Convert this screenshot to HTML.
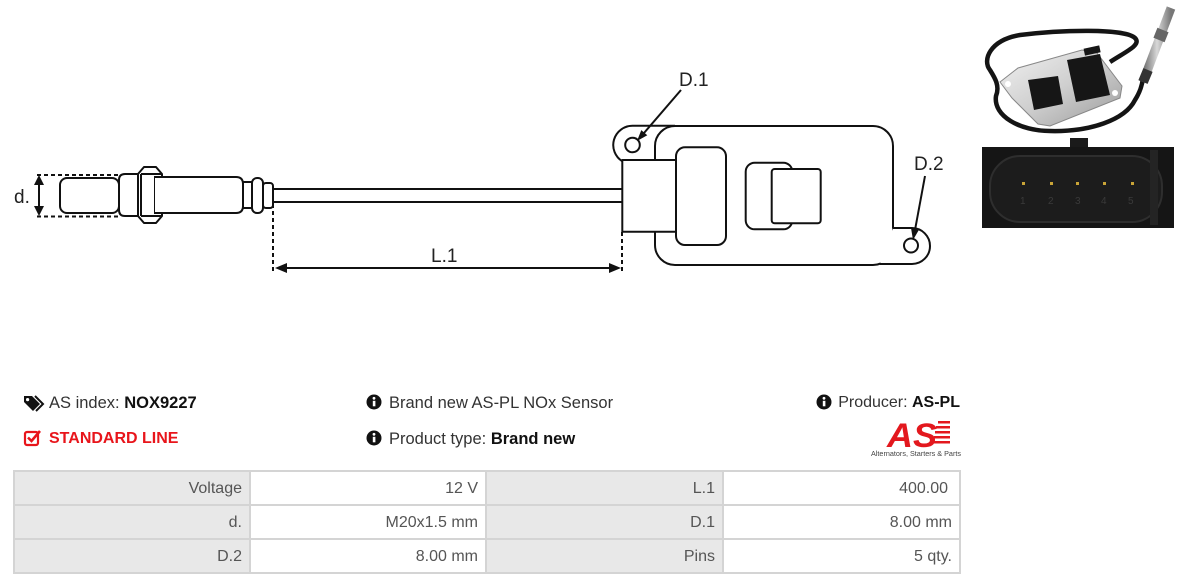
<!DOCTYPE html>
<html><head><meta charset="utf-8">
<style>
html,body{margin:0;padding:0;background:#fff;}
body{width:1185px;height:586px;position:relative;overflow:hidden;font-family:"Liberation Sans",Arial,sans-serif;}
.t{position:absolute;font-size:16.5px;color:#333;white-space:nowrap;line-height:20px;}
.t b{color:#111;}
.c{position:absolute;box-sizing:border-box;font-size:16px;color:#555;text-align:right;line-height:34px;padding-right:7px;height:32px;white-space:nowrap;}
.l{background:#e8e8e8;}
.v{background:#fff;}
svg{position:absolute;left:0;top:0;}
</style></head><body>

<svg width="1185" height="300" viewBox="0 0 1185 300" xmlns="http://www.w3.org/2000/svg">
<defs>
<linearGradient id="pl" x1="0" y1="0" x2="1" y2="1">
<stop offset="0" stop-color="#f2f2f2"/><stop offset="0.5" stop-color="#cfcfcf"/><stop offset="1" stop-color="#9a9a9a"/>
</linearGradient>
<linearGradient id="pr" x1="0" y1="0" x2="1" y2="0">
<stop offset="0" stop-color="#6a6a6a"/><stop offset="0.5" stop-color="#d8d8d8"/><stop offset="1" stop-color="#777"/>
</linearGradient>
</defs>
<g fill="none" stroke="#111" stroke-width="2" stroke-linejoin="round">
<rect x="60" y="178" width="59" height="35" rx="7" fill="#fff"/>
<path d="M140 174 L125 174 Q119 174 119 180 L119 210 Q119 216 125 216 L140 216" fill="#fff"/>
<polygon points="138,174 144,167 156,167 162,174 162,216 156,223 144,223 138,216" fill="#fff"/>
<line x1="141" y1="174" x2="141" y2="216"/>
<line x1="155" y1="176" x2="155" y2="214"/>
<line x1="141" y1="174" x2="162" y2="174"/>
<line x1="141" y1="216" x2="162" y2="216"/>
<path d="M155 177 L236 177 Q243 177 243 184 L243 206 Q243 213 236 213 L155 213" fill="#fff"/>
<rect x="243" y="182" width="9" height="26" fill="#fff"/>
<rect x="252" y="178" width="11" height="35" rx="5" fill="#fff"/>
<rect x="263" y="183" width="10" height="25" rx="3" fill="#fff"/>
<line x1="273" y1="189" x2="622" y2="189"/>
<line x1="273" y1="202" x2="622" y2="202"/>
<rect x="655" y="126" width="238" height="139" rx="20" fill="#fff"/>
<path d="M675 125.8 L632.5 125.8 A19.2 19.2 0 0 0 622.3 161.3"/>
<circle cx="632.5" cy="145" r="7.3"/>
<path d="M893 228 L912 228 A18 18 0 0 1 912 264 L880 264" fill="#fff"/>
<circle cx="911" cy="245.5" r="7"/>
<rect x="622.3" y="160" width="53.7" height="71.7" fill="#fff"/>
<rect x="676" y="147.3" width="50" height="97.7" rx="9" fill="#fff"/>
<rect x="745.7" y="162.7" width="46.6" height="66.6" rx="9" fill="#fff"/>
<rect x="771.7" y="169" width="49" height="54.3" rx="3" fill="#fff"/>
<line x1="681" y1="90" x2="644" y2="133"/>
<line x1="925" y1="176" x2="915" y2="230"/>
<g stroke-dasharray="4,3">
<line x1="37" y1="175" x2="119" y2="175"/>
<line x1="37" y1="216.5" x2="119" y2="216.5"/>
<line x1="273" y1="204" x2="273" y2="271"/>
<line x1="622" y1="232" x2="622" y2="271"/>
</g>
<line x1="39" y1="183" x2="39" y2="208"/>
<line x1="285" y1="268" x2="611" y2="268"/>
</g>
<g fill="#111">
<polygon points="39,175 34,185 44,185"/>
<polygon points="39,216 34,206 44,206"/>
<polygon points="275,268 287,263 287,273"/>
<polygon points="621,268 609,263 609,273"/>
<polygon points="637,141 647.3,135.3 641.3,130.1"/>
<polygon points="913,240 918.9,229.9 911.1,228.5"/>
</g>
<g font-family="Liberation Sans, Arial, sans-serif" font-size="19" fill="#222">
<text x="14" y="203">d.</text>
<text x="431" y="262">L.1</text>
<text x="679" y="86">D.1</text>
<text x="914" y="170">D.2</text>
</g>

<path d="M1110 62 C1125 52 1142 45 1135 38 C1125 28 1060 30 1020 35 C990 40 982 60 990 70 C995 78 1000 86 996 96 C993 116 1020 131 1050 131 C1090 132 1125 120 1135 100 C1140 92 1142 86 1143 78" fill="none" stroke="#141414" stroke-width="4.5"/>
<polygon points="1000,82 1018,68 1082,50 1097,53 1122,86 1120,98 1050,126 1038,124 1012,98" fill="url(#pl)" stroke="#888" stroke-width="1"/>
<circle cx="1008" cy="84" r="3" fill="#fff"/>
<circle cx="1115" cy="93" r="3" fill="#fff"/>
<polygon points="1028,80 1058,76 1063,104 1034,110" fill="#161616"/>
<polygon points="1067,60 1100,54 1110,95 1076,102" fill="#161616"/>
<rect x="1084" y="47" width="16" height="7" fill="#161616" transform="rotate(-12 1092 50)"/>
<line x1="1143" y1="82" x2="1171" y2="8" stroke="url(#pr)" stroke-width="9"/>
<line x1="1143" y1="82" x2="1148" y2="70" stroke="#333" stroke-width="10"/>
<line x1="1159" y1="40" x2="1163" y2="30" stroke="#666" stroke-width="12"/>

<rect x="1070" y="138" width="18" height="10" fill="#1a1a1a"/>
<rect x="982" y="147" width="192" height="81" fill="#151515"/>
<rect x="990" y="156" width="172" height="66" rx="30" fill="#1c1c1c" stroke="#2e2e2e" stroke-width="2"/>
<rect x="1150" y="150" width="8" height="75" fill="#242424"/>
<g fill="#c9a437">
<rect x="1022" y="182" width="3" height="3"/>
<rect x="1050" y="182" width="3" height="3"/>
<rect x="1076" y="182" width="3" height="3"/>
<rect x="1103" y="182" width="3" height="3"/>
<rect x="1131" y="182" width="3" height="3"/>
</g>
<g font-family="Liberation Sans, Arial, sans-serif" font-size="10" fill="#3a3a3a">
<text x="1020" y="204">1</text><text x="1048" y="204">2</text><text x="1075" y="204">3</text><text x="1101" y="204">4</text><text x="1128" y="204">5</text>
</g>
</svg>

<svg width="1185" height="586" viewBox="0 0 1185 586" xmlns="http://www.w3.org/2000/svg" style="top:0;left:0">
<polygon points="24,396 32,396 40,404 33,411 24,402" fill="#111"/>
<circle cx="27.6" cy="399.6" r="1.6" fill="#fff"/>
<polyline points="35,396 43,404 36,411" fill="none" stroke="#111" stroke-width="2"/>
<rect x="25" y="432" width="13" height="13" rx="2" fill="none" stroke="#e8151b" stroke-width="2.2"/>
<polyline points="28,437.5 31.5,441 40,431" fill="none" stroke="#e8151b" stroke-width="2.6"/>
<g>
<circle cx="374" cy="402" r="7.5" fill="#111"/><circle cx="374" cy="398.3" r="1.4" fill="#fff"/><rect x="372.8" y="400.8" width="2.6" height="5.5" fill="#fff"/>
<circle cx="374" cy="438" r="7.5" fill="#111"/><circle cx="374" cy="434.3" r="1.4" fill="#fff"/><rect x="372.8" y="436.8" width="2.6" height="5.5" fill="#fff"/>
<circle cx="824" cy="402" r="7.5" fill="#111"/><circle cx="824" cy="398.3" r="1.4" fill="#fff"/><rect x="822.8" y="400.8" width="2.6" height="5.5" fill="#fff"/>
</g>
<text x="887" y="447" font-family="Liberation Sans, Arial, sans-serif" font-weight="bold" font-style="italic" font-size="34" fill="#e3181e" textLength="50" lengthAdjust="spacingAndGlyphs">AS</text>
<g fill="#e3181e">
<rect x="938" y="421" width="12" height="2.5"/>
<rect x="936" y="426" width="14" height="2.5"/>
<rect x="935" y="431" width="15" height="2.5"/>
<rect x="934" y="436" width="16" height="2.5"/>
<rect x="933" y="441" width="17" height="2.5"/>
</g>
<text x="871" y="456" font-family="Liberation Sans, Arial, sans-serif" font-size="7" fill="#444" textLength="90" lengthAdjust="spacingAndGlyphs">Alternators, Starters &amp; Parts</text>
</svg>

<div class="t" style="left:49px;top:393px;">AS index: <b>NOX9227</b></div>
<div class="t" style="left:49px;top:429px;color:#e8151b;font-weight:bold;font-size:16px;">STANDARD LINE</div>
<div class="t" style="left:389px;top:393px;">Brand new AS-PL NOx Sensor</div>
<div class="t" style="left:389px;top:429px;">Product type: <b>Brand new</b></div>
<div class="t" style="right:225px;top:393px;font-size:16px;">Producer: <b>AS-PL</b></div>

<div style="position:absolute;left:13px;top:470px;width:948px;height:104px;background:#d4d4d4;"></div>
<div class="c l" style="left:15px;top:472px;width:234px;">Voltage</div>
<div class="c v" style="left:251px;top:472px;width:234px;">12 V</div>
<div class="c l" style="left:487px;top:472px;width:235px;">L.1</div>
<div class="c v" style="left:724px;top:472px;width:235px;padding-right:11px;">400.00</div>
<div class="c l" style="left:15px;top:506px;width:234px;">d.</div>
<div class="c v" style="left:251px;top:506px;width:234px;">M20x1.5 mm</div>
<div class="c l" style="left:487px;top:506px;width:235px;">D.1</div>
<div class="c v" style="left:724px;top:506px;width:235px;">8.00 mm</div>
<div class="c l" style="left:15px;top:540px;width:234px;">D.2</div>
<div class="c v" style="left:251px;top:540px;width:234px;">8.00 mm</div>
<div class="c l" style="left:487px;top:540px;width:235px;">Pins</div>
<div class="c v" style="left:724px;top:540px;width:235px;">5 qty.</div>

</body></html>
